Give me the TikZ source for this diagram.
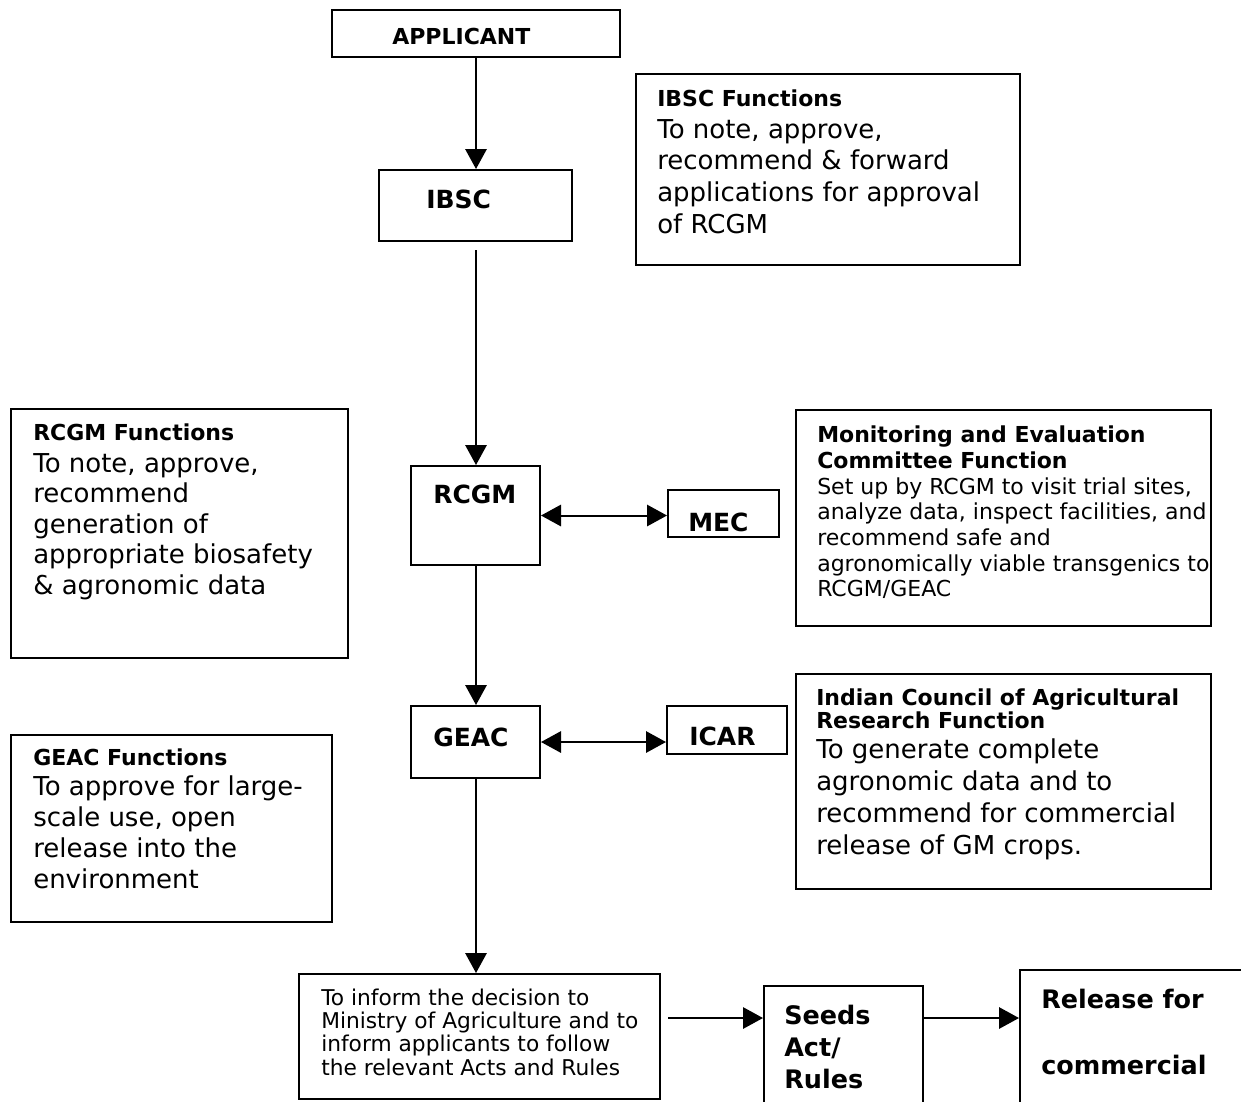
\documentclass[tikz,border=0pt]{standalone}
\usepackage{fontspec}
\setmainfont{DejaVu Sans}
\usetikzlibrary{arrows.meta,calc,fit}
\newcommand\setfs[1]{\fontsize{#1}{#1}\selectfont}
\newcommand\rowbox[2]{\vtop{\baselineskip=#1\relax #2}}
\newcommand\rw[1]{\hbox{#1}}
\begin{document}
\begin{tikzpicture}[x=0.75pt,y=-0.75pt,
  box/.style={draw, line width=1.5pt, rectangle, inner sep=0pt},
  txt/.style={anchor=base west, inner sep=0pt},
  hd/.style={txt, font=\bfseries\setfs{16.5pt}},
  lbl/.style={txt, font=\bfseries\setfs{18.75pt}},
  bodyl/.style={txt, font=\setfs{19.5pt}},
  bodys/.style={txt, font=\setfs{16.5pt}},
  big/.style={txt, font=\bfseries\setfs{19.1pt}},
  arr/.style={line width=1.5pt, -{Triangle[length=15pt,width=16pt]}},
  darr/.style={line width=1.5pt, {Triangle[length=15pt,width=16pt]}-{Triangle[length=15pt,width=16pt]}},
]
\useasboundingbox (0,0) rectangle (1241,1101);
\fill[white] (0,0) rectangle (1241,1101);
\clip (0,0) rectangle (1241,1101);

% boxes
\node[box, fit={(332,10) (620,57)}] (applicant) {};
\node[box, fit={(379,170) (572,241)}] (ibsc) {};
\node[box, fit={(636,74) (1020,265)}] (ibscf) {};
\node[box, fit={(11,409) (348,658)}] (rcgmf) {};
\node[box, fit={(411,466) (540,565)}] (rcgm) {};
\node[box, fit={(668,490) (779,537)}] (mec) {};
\node[box, fit={(796,410) (1211,626)}] (mecf) {};
\node[box, fit={(11,735) (332,922)}] (geacf) {};
\node[box, fit={(411,706) (540,778)}] (geac) {};
\node[box, fit={(667,706) (787,754)}] (icar) {};
\node[box, fit={(796,674) (1211,889)}] (icarf) {};
\node[box, fit={(299,974) (660,1099)}] (inform) {};
\node[box, fit={(764,986) (923,1140)}] (seeds) {};
\node[box, fit={(1020,970) (1270,1140)}] (release) {};

% texts
\node[txt, font=\bfseries\setfs{16.5pt}] (applicantt) at (392,44) {APPLICANT};
\node[lbl] (ibsct) at (426,208) {IBSC};
\node[hd] (ibscfh) at (657,106) {IBSC Functions};
\node[bodyl] (ibscfb) at (657,138) {\rowbox{23.8pt}{\rw{To note, approve,}\rw{recommend \& forward}\rw{applications for approval}\rw{of RCGM}}};

\node[hd] (rcgmfh) at (33,440) {RCGM Functions};
\node[bodyl] (rcgmfb) at (33,472) {\rowbox{22.9pt}{\rw{To note, approve,}\rw{recommend}\rw{generation of}\rw{appropriate biosafety}\rw{\& agronomic data}}};

\node[hd] (geacfh) at (33,765) {GEAC Functions};
\node[bodyl] (geacfb) at (33,795) {\rowbox{23.25pt}{\rw{To approve for large-}\rw{scale use, open}\rw{release into the}\rw{environment}}};

\node[lbl] (rcgmt) at (433,503) {RCGM};
\node[lbl] (mect) at (688,531) {MEC};
\node[lbl] (geact) at (433,746) {GEAC};
\node[lbl] (icart) at (689,745) {ICAR};

\node[hd] (mecfh) at (817,442) {\rowbox{19.5pt}{\rw{Monitoring and Evaluation}\rw{Committee Function}}};
\node[bodys] (mecfb) at (817,494) {\rowbox{19.3pt}{\rw{Set up by RCGM to visit trial sites,}\rw{analyze data, inspect facilities, and}\rw{recommend safe and}\rw{agronomically viable transgenics to}\rw{RCGM/GEAC}}};

\node[hd] (icarfh) at (816,705) {\rowbox{17.25pt}{\rw{Indian Council of Agricultural}\rw{Research Function}}};
\node[bodyl] (icarfb) at (816,758) {\rowbox{24pt}{\rw{To generate complete}\rw{agronomic data and to}\rw{recommend for commercial}\rw{release of GM crops.}}};

\node[txt, font=\setfs{16.3pt}] (informt) at (321,1005) {\rowbox{17.6pt}{\rw{To inform the decision to}\rw{Ministry of Agriculture and to}\rw{inform applicants to follow}\rw{the relevant Acts and Rules}}};
\node[big] (seedst) at (784,1024) {\rowbox{24pt}{\rw{Seeds}\rw{Act/}\rw{Rules}}};
\node[big] (releaset) at (1041,1008) {\rowbox{50pt}{\rw{Release for}\rw{commercial}}};

% connectors
\coordinate (xa) at (476,0);
\draw[arr] (applicant.south -| xa) -- (ibsc.north -| xa);
\draw[arr] ($(ibsc.south -| xa)+(0,8)$) -- (rcgm.north -| xa);
\draw[darr] (rcgm.east) -- (rcgm.east -| mec.west);
\draw[arr] (rcgm.south -| xa) -- (geac.north -| xa);
\draw[darr] (geac.east) -- (geac.east -| icar.west);
\draw[arr] (geac.south -| xa) -- (inform.north -| xa);
\coordinate (ya) at (0,1018);
\draw[arr] ($(inform.east |- ya)+(7,0)$) -- (seeds.west |- ya);
\draw[arr] (seeds.east |- ya) -- (release.west |- ya);
\end{tikzpicture}
\end{document}
